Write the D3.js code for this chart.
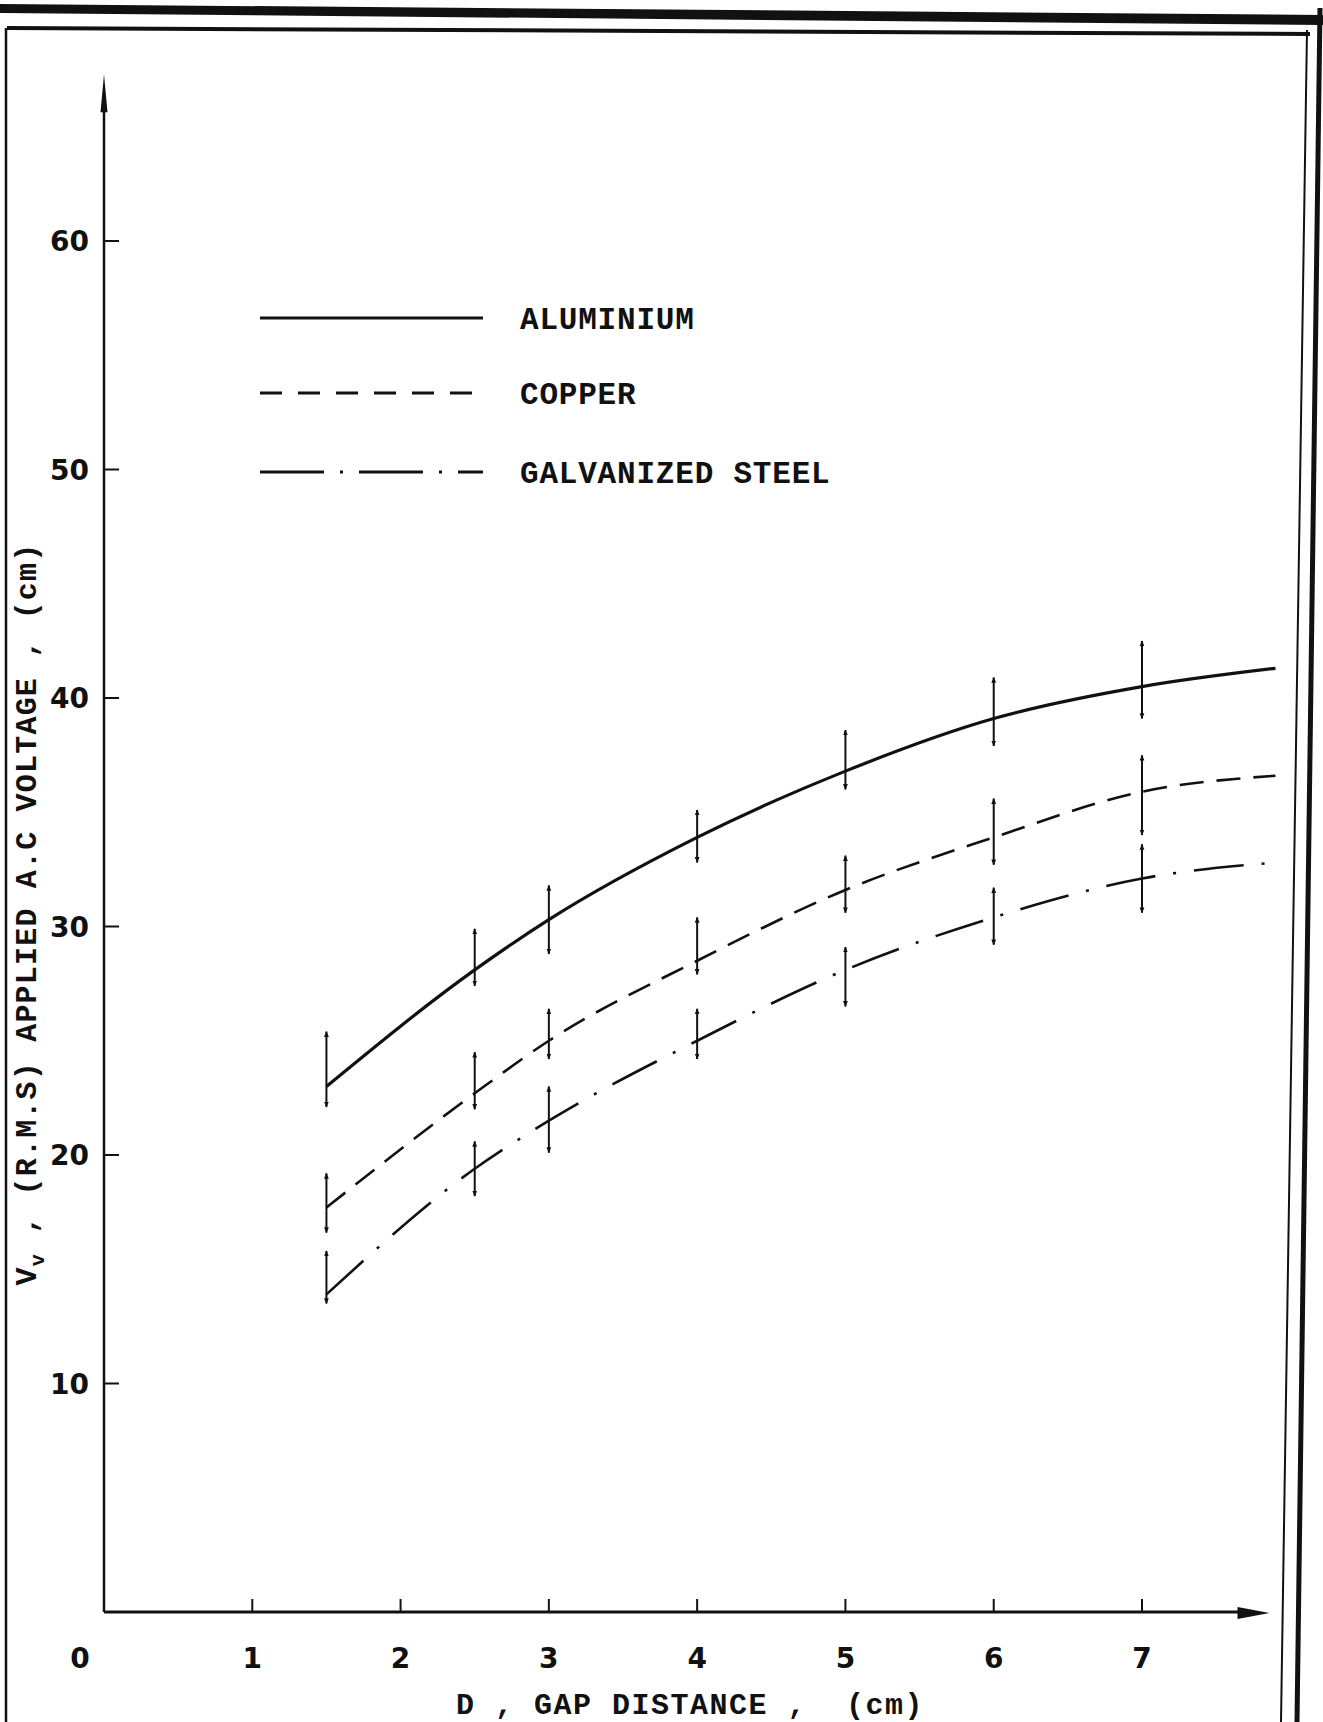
<!DOCTYPE html>
<html>
<head>
<meta charset="utf-8">
<script src="https://cdn.jsdelivr.net/npm/d3@7"></script>
<style>
  html, body { margin: 0; padding: 0; background: #fff; }
  svg { display: block; }
</style>
</head>
<body>
<div id="chart"></div>
<script>
// gap distance (cm) at which measurements were taken
const gapX = [1.5, 2.5, 3, 4, 5, 6, 7];

// fitted curve values at each gap, plus where the drawn curve ends
const aluminium = [23.0, 28.1, 30.3, 33.9, 36.8, 39.1, 40.5];
const copper = [17.7, 22.7, 25.0, 28.5, 31.6, 33.9, 35.9];
const steel = [13.9, 19.4, 21.5, 25.0, 28.1, 30.4, 32.1];
const curveEndX = 7.9;
const curveEnd = [41.3, 36.6, 32.8];

// scatter range (low, high) at each gap
const aluminiumRange = [[22.1, 25.4], [27.4, 29.9], [28.8, 31.8], [32.8, 35.1], [36.0, 38.6], [37.9, 40.9], [39.1, 42.5]];
const copperRange = [[16.6, 19.2], [22.0, 24.5], [24.2, 26.4], [27.9, 30.4], [30.6, 33.1], [32.7, 35.6], [34.0, 37.5]];
const steelRange = [[13.5, 15.8], [18.2, 20.6], [20.1, 23.0], [24.2, 26.4], [26.5, 29.1], [29.2, 31.7], [30.6, 33.6]];

const seriesNames = ["ALUMINIUM", "COPPER", "GALVANIZED STEEL"];
const xTicks = [1, 2, 3, 4, 5, 6, 7];
const yTicks = [10, 20, 30, 40, 50, 60];

document.addEventListener("DOMContentLoaded", function() {
    const width = 1323;
    const height = 1722;

    const svg = d3.select("#chart").append("svg")
        .attr("width", width)
        .attr("height", height);

    svg.append("rect")
        .attr("width", width)
        .attr("height", height)
        .attr("fill", "#fff");

    // scales
    const x = d3.scaleLinear().domain([0, 7]).range([104, 1142]);
    const y = d3.scaleLinear().domain([0, 60]).range([1612, 241]);

    const ink = "#111";
    const mono = "'Liberation Mono', 'Courier New', monospace";
    const sans = "'DejaVu Sans', sans-serif";

    // page frame (scanned sheet border)
    const frame = svg.append("g").attr("fill", ink).attr("stroke", ink);
    frame.append("polygon")
        .attr("points", "0,4 1323,15 1323,25 0,13")
        .attr("stroke", "none");
    frame.append("line")
        .attr("x1", 7).attr("y1", 28).attr("x2", 1310).attr("y2", 34)
        .attr("stroke-width", 4);
    frame.append("line")
        .attr("x1", 6).attr("y1", 28).attr("x2", 6).attr("y2", height)
        .attr("stroke-width", 2.5);
    frame.append("line")
        .attr("x1", 1307).attr("y1", 30).attr("x2", 1281).attr("y2", height)
        .attr("stroke-width", 2);
    frame.append("line")
        .attr("x1", 1320).attr("y1", 8).attr("x2", 1297).attr("y2", height)
        .attr("stroke-width", 5);

    // markers for scatter bars
    const defs = svg.append("defs");
    defs.append("marker")
        .attr("id", "tip")
        .attr("viewBox", "0 -5 10 10")
        .attr("refX", 9)
        .attr("refY", 0)
        .attr("markerWidth", 3)
        .attr("markerHeight", 3)
        .attr("orient", "auto-start-reverse")
        .append("path")
        .attr("d", "M0,-4L10,0L0,4Z")
        .attr("fill", ink);

    // axes
    const axisTop = 67.3;
    const axisRight = 7.86;

    svg.append("line")
        .attr("x1", x(0)).attr("y1", y(0))
        .attr("x2", x(0)).attr("y2", y(axisTop) + 30)
        .attr("stroke", ink).attr("stroke-width", 2.5);
    svg.append("path")
        .attr("d", `M${x(0)},${y(axisTop)} L${x(0) + 3.5},${y(axisTop) + 38} L${x(0) - 3.5},${y(axisTop) + 38}Z`)
        .attr("fill", ink);

    svg.append("line")
        .attr("x1", x(0)).attr("y1", y(0))
        .attr("x2", x(axisRight) - 28).attr("y2", y(0))
        .attr("stroke", ink).attr("stroke-width", 3);
    svg.append("path")
        .attr("d", `M${x(axisRight)},${y(0) + 1} L${x(axisRight) - 32},${y(0) - 5} L${x(axisRight) - 32},${y(0) + 7}Z`)
        .attr("fill", ink);

    // y ticks + labels
    svg.selectAll(".ytick")
        .data(yTicks)
        .enter().append("line")
        .attr("x1", x(0)).attr("x2", x(0) + 15)
        .attr("y1", d => y(d)).attr("y2", d => y(d))
        .attr("stroke", ink).attr("stroke-width", 2);

    svg.selectAll(".ylab")
        .data(yTicks)
        .enter().append("text")
        .attr("x", 89)
        .attr("y", d => y(d))
        .attr("dy", "0.36em")
        .attr("text-anchor", "end")
        .attr("font-family", sans)
        .attr("font-weight", "bold")
        .attr("font-size", 28)
        .attr("fill", ink)
        .text(d => d);

    // x ticks + labels
    svg.selectAll(".xtick")
        .data(xTicks)
        .enter().append("line")
        .attr("x1", d => x(d)).attr("x2", d => x(d))
        .attr("y1", y(0)).attr("y2", y(0) - 13)
        .attr("stroke", ink).attr("stroke-width", 2);

    svg.selectAll(".xlab")
        .data([0].concat(xTicks))
        .enter().append("text")
        .attr("x", d => d === 0 ? x(0) - 24 : x(d))
        .attr("y", 1668)
        .attr("text-anchor", "middle")
        .attr("font-family", sans)
        .attr("font-weight", "bold")
        .attr("font-size", 28)
        .attr("fill", ink)
        .text(d => d);

    // axis titles
    svg.append("text")
        .attr("x", 690)
        .attr("y", 1714)
        .attr("text-anchor", "middle")
        .attr("font-family", mono)
        .attr("font-weight", "bold")
        .attr("font-size", 30)
        .attr("letter-spacing", 1.5)
        .attr("fill", ink)
        .attr("xml:space", "preserve")
        .text("D , GAP DISTANCE ,  (cm)");

    const yTitle = svg.append("text")
        .attr("transform", "translate(36,914) rotate(-90)")
        .attr("text-anchor", "middle")
        .attr("font-family", mono)
        .attr("font-weight", "bold")
        .attr("font-size", 30)
        .attr("letter-spacing", 1.2)
        .attr("fill", ink);
    yTitle.append("tspan").text("V");
    yTitle.append("tspan").attr("dy", 8).attr("font-size", 20).text("v");
    yTitle.append("tspan").attr("dy", -8).text(" , (R.M.S) APPLIED A.C VOLTAGE , (cm)");

    // series
    const values = [aluminium, copper, steel];
    const ranges = [aluminiumRange, copperRange, steelRange];
    const dashes = [null, "24,13", "50,18,3,18"];
    const widths = [3.2, 2.6, 2.6];

    const line = d3.line()
        .x(d => x(d[0]))
        .y(d => y(d[1]))
        .curve(d3.curveMonotoneX);

    values.forEach((vals, i) => {
        const pts = gapX.map((g, j) => [g, vals[j]]).concat([[curveEndX, curveEnd[i]]]);
        svg.append("path")
            .datum(pts)
            .attr("d", line)
            .attr("fill", "none")
            .attr("stroke", ink)
            .attr("stroke-width", widths[i])
            .attr("stroke-dasharray", dashes[i]);

        svg.selectAll(".bar" + i)
            .data(ranges[i])
            .enter().append("line")
            .attr("x1", (d, j) => x(gapX[j]))
            .attr("x2", (d, j) => x(gapX[j]))
            .attr("y1", d => y(d[0]))
            .attr("y2", d => y(d[1]))
            .attr("stroke", ink)
            .attr("stroke-width", 2)
            .attr("marker-start", "url(#tip)")
            .attr("marker-end", "url(#tip)");
    });

    // legend
    const legendY = [318, 393, 472];
    const legendDash = [null, "22,16", "64,16,3,16"];
    seriesNames.forEach((name, i) => {
        svg.append("line")
            .attr("x1", 260).attr("x2", 483)
            .attr("y1", legendY[i]).attr("y2", legendY[i])
            .attr("stroke", ink)
            .attr("stroke-width", 3)
            .attr("stroke-dasharray", legendDash[i]);
        svg.append("text")
            .attr("x", 520)
            .attr("y", legendY[i])
            .attr("dy", "0.35em")
            .attr("font-family", mono)
            .attr("font-weight", "bold")
            .attr("font-size", 31)
            .attr("letter-spacing", 0.8)
            .attr("fill", ink)
            .text(name);
    });
});
</script>
</body>
</html>
